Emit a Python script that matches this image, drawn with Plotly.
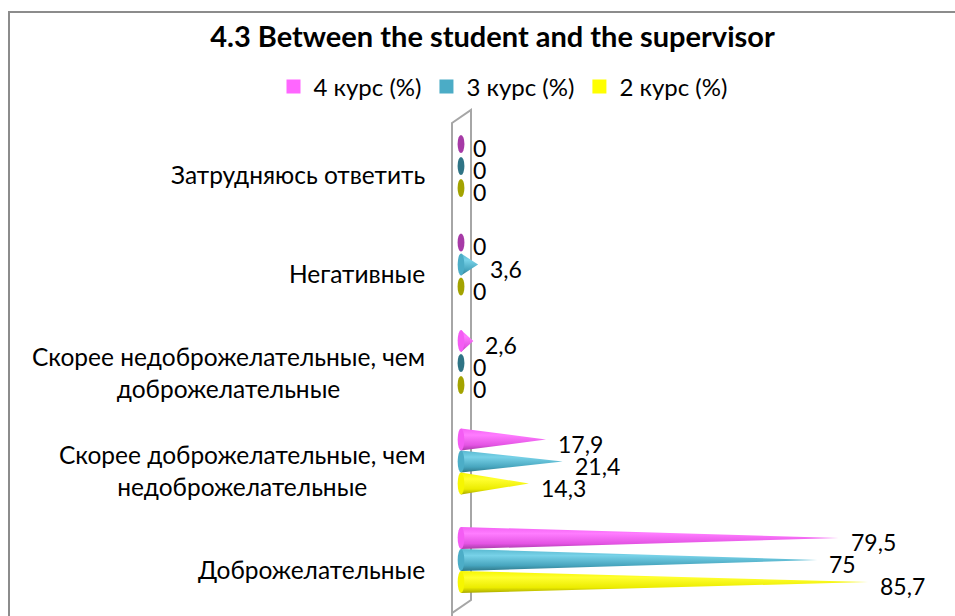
import plotly.graph_objects as go

# Response categories, bottom to top
categories = [
    "Доброжелательные",
    "Скорее доброжелательные, чем<br>недоброжелательные",
    "Скорее недоброжелательные, чем<br>доброжелательные",
    "Негативные",
    "Затрудняюсь ответить",
]
series_names = ["4 курс (%)", "3 курс (%)", "2 курс (%)"]
course4 = [79.5, 17.9, 2.6, 0, 0]
course3 = [75, 21.4, 0, 3.6, 0]
course2 = [85.7, 14.3, 0, 0, 0]
value_labels4 = ["79,5", "17,9", "2,6", "0", "0"]
value_labels3 = ["75", "21,4", "0", "3,6", "0"]
value_labels2 = ["85,7", "14,3", "0", "0", "0"]

W, H = 955, 616
FONT = "Lato"

# colours: legend swatch, gradient stops, base ellipse for empty values
styles = [
    dict(swatch="#FF66FF", base="#F45CF4", dark="#A63AA6",
         scale=[[0, "#A83CA8"], [0.25, "#E454E4"], [0.7, "#FF7CFF"], [1, "#F462F4"]]),
    dict(swatch="#4BACC6", base="#4CADC7", dark="#2F7485",
         scale=[[0, "#2F7788"], [0.25, "#47A5BE"], [0.7, "#78D2E8"], [1, "#58B8D0"]]),
    dict(swatch="#FFFF00", base="#F6F600", dark="#A3A300",
         scale=[[0, "#A8A800"], [0.25, "#ECEC00"], [0.7, "#FFFF30"], [1, "#F6F600"]]),
]
series_values = [course4, course3, course2]
series_labels = [value_labels4, value_labels3, value_labels2]
offsets = [0.2234, 0.0, -0.2234]   # pink on top, yellow at the bottom of each group
half = 0.112                         # half thickness of a cone, in category units

# plot area in pixels (value 0 sits at x = 461, 4.75 px per percent)
x_zero, x_scale = 461, 4.75
x_min, x_max = -2, 100
y_top, y_bottom = 116.75, 609.25


def px(x):
    return x / W


def py(y):
    return 1 - y / H


fig = go.Figure()
shapes = []
annotations = []

for s, (vals, labs, st, off) in enumerate(zip(series_values, series_labels, styles, offsets)):
    for i, (v, lab) in enumerate(zip(vals, labs)):
        yc = i + off
        if v > 0:
            fig.add_trace(go.Scatter(
                x=[0, v, 0, 0], y=[yc + half, yc, yc - half, yc + half],
                mode="lines", line=dict(width=0), fill="toself",
                fillgradient=dict(type="vertical", colorscale=st["scale"]),
                hoverinfo="skip", showlegend=False,
            ))
            shapes.append(dict(type="circle", xref="x", yref="y",
                               x0=-0.7, x1=0.7, y0=yc - half, y1=yc + half,
                               fillcolor=st["base"], line=dict(width=0), layer="above"))
        else:
            shapes.append(dict(type="circle", xref="x", yref="y",
                               x0=-0.72, x1=0.72, y0=yc - 0.092, y1=yc + 0.092,
                               fillcolor=st["dark"], line=dict(width=0), layer="above"))
        annotations.append(dict(x=v, y=yc, xref="x", yref="y", text=lab,
                                showarrow=False, xanchor="left", yanchor="middle",
                                xshift=11, yshift=-4, borderpad=0,
                                font=dict(family=FONT, size=23, color="#000000")))

# legend entries
for name, st in zip(series_names, styles):
    fig.add_trace(go.Scatter(x=[None], y=[None], mode="markers", name=name,
                             marker=dict(symbol="square", size=14, color=st["swatch"])))

# category labels, centred lines
for i, cat in enumerate(categories):
    annotations.append(dict(x=0, y=i, xref="x", yref="y", text=cat, showarrow=False,
                            xanchor="right", yanchor="middle", align="center",
                            xshift=-34, yshift=-9,
                            font=dict(family=FONT, size=24.5, color="#000000")))

# chart frame
shapes.append(dict(type="rect", xref="paper", yref="paper",
                   x0=px(9), x1=px(W + 20), y0=py(H + 20), y1=py(12),
                   line=dict(color="#8C8C8C", width=2), fillcolor="rgba(0,0,0,0)",
                   layer="below"))
# 3-D back wall of the value axis
wall = [(452, 123), (471, 110), (471, 600), (452, 613)]
path = "M {} {} L {} {} L {} {} L {} {} Z".format(
    *[c for p_ in wall for c in (px(p_[0]), py(p_[1]))])
shapes.append(dict(type="path", xref="paper", yref="paper", path=path,
                   line=dict(color="#A6A6A6", width=2), fillcolor="rgba(255,255,255,0)",
                   layer="below"))
shapes.append(dict(type="line", xref="paper", yref="paper",
                   x0=px(452), x1=px(452), y0=py(613), y1=py(H + 5),
                   line=dict(color="#A6A6A6", width=2), layer="below"))

fig.update_layout(
    width=W, height=H,
    margin=dict(l=0, r=0, t=0, b=0),
    paper_bgcolor="#FFFFFF", plot_bgcolor="rgba(0,0,0,0)",
    title=dict(text="<b>4.3 Between the student and the supervisor</b>",
               x=px(492.5), xanchor="center", y=py(37), yanchor="middle",
               font=dict(family=FONT, size=29, color="#000000")),
    legend=dict(orientation="h", x=px(503), xanchor="center", y=py(87), yanchor="middle",
                font=dict(family=FONT, size=24, color="#000000"),
                bgcolor="rgba(0,0,0,0)", itemclick=False, itemdoubleclick=False),
    xaxis=dict(range=[x_min, x_max],
               domain=[px(x_zero + x_min * x_scale), px(x_zero + x_max * x_scale)],
               visible=False, fixedrange=True),
    yaxis=dict(range=[-0.5, 4.5], domain=[py(y_bottom), py(y_top)], visible=False, fixedrange=True),
    shapes=shapes,
    annotations=annotations,
    hovermode=False,
)

fig.write_html("out.html")
